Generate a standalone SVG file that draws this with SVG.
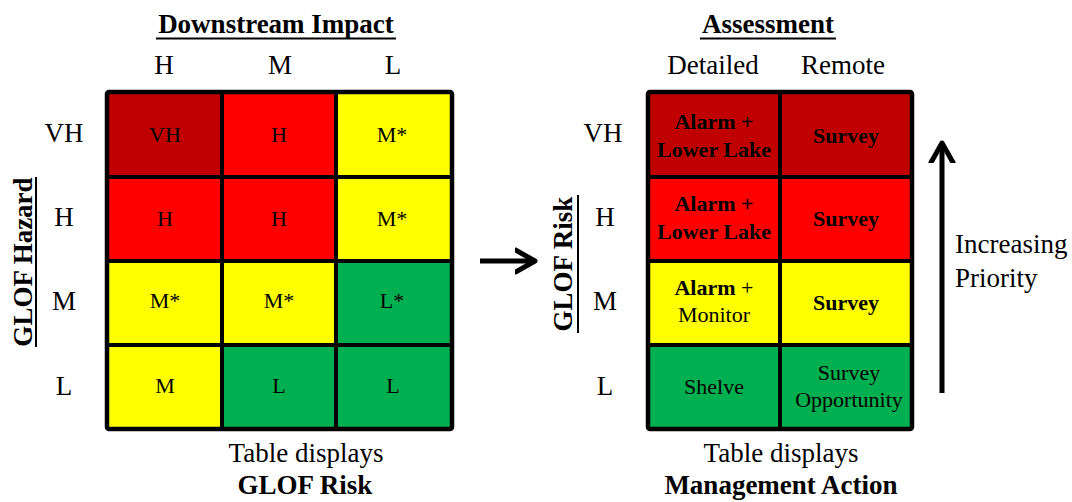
<svg xmlns="http://www.w3.org/2000/svg" width="1072" height="502" viewBox="0 0 1072 502" font-family="'Liberation Serif', 'Times New Roman', serif">
  <defs>
    <style>
      text { font-family: "Liberation Serif", "Times New Roman", serif; fill: #000; }
      .lbl { font-family: "Liberation Serif", "Times New Roman", serif; font-size: 27px; text-anchor: middle; }
      .ttl { font-family: "Liberation Serif", "Times New Roman", serif; font-size: 27px; font-weight: bold; text-anchor: middle; }
      .cell { font-family: "Liberation Serif", "Times New Roman", serif; font-size: 22px; text-anchor: middle; }
      .b { font-weight: bold; }
      .vh { fill: #C00000; }
      .hi { fill: #FF0000; }
      .md { fill: #FFFF00; }
      .lo { fill: #00B050; }
      .grid { fill: none; stroke: #000; stroke-width: 4; }
      .frame { fill: none; stroke: #000; stroke-width: 4.5; }
      .ul { stroke: #000; stroke-width: 2; }
      .arrow { stroke: #000; stroke-width: 5; fill: none; }
    </style>
    <marker id="head" markerWidth="6" markerHeight="6" refX="4" refY="3" orient="auto" markerUnits="strokeWidth">
      <path d="M0.1,0.8 L4,3 L0.1,5.2" fill="none" stroke="#000" stroke-width="1" stroke-linecap="round" stroke-linejoin="round"/>
    </marker>
  </defs>

  <!-- Left matrix: GLOF hazard vs downstream impact -->
  <g id="risk-matrix">
    <text class="ttl" x="276" y="33">Downstream Impact</text>
    <line class="ul" x1="156" y1="38.5" x2="396" y2="38.5"/>
    <text class="lbl" x="164" y="74">H</text>
    <text class="lbl" x="280" y="74">M</text>
    <text class="lbl" x="393" y="74">L</text>

    <text class="lbl" x="64" y="142">VH</text>
    <text class="lbl" x="64" y="226">H</text>
    <text class="lbl" x="64" y="310">M</text>
    <text class="lbl" x="64" y="395">L</text>

    <text class="ttl" transform="translate(32,262) rotate(-90)">GLOF Hazard</text>
    <line class="ul" x1="36" y1="177" x2="36" y2="347"/>

    <rect class="vh" x="107" y="92" width="115" height="85"/>
    <rect class="hi" x="222" y="92" width="114" height="85"/>
    <rect class="md" x="336" y="92" width="116" height="85"/>
    <rect class="hi" x="107" y="177" width="115" height="84"/>
    <rect class="hi" x="222" y="177" width="114" height="84"/>
    <rect class="md" x="336" y="177" width="116" height="84"/>
    <rect class="md" x="107" y="261" width="115" height="84"/>
    <rect class="md" x="222" y="261" width="114" height="84"/>
    <rect class="lo" x="336" y="261" width="116" height="84"/>
    <rect class="md" x="107" y="345" width="115" height="84"/>
    <rect class="lo" x="222" y="345" width="114" height="84"/>
    <rect class="lo" x="336" y="345" width="116" height="84"/>

    <path class="grid" d="M222,92 V429 M336,92 V429 M107,177 H452 M107,261 H452 M107,345 H452"/>
    <rect class="frame" x="107" y="92" width="345" height="337" rx="2"/>

    <text class="cell" x="165" y="142">VH</text>
    <text class="cell" x="279" y="142">H</text>
    <text class="cell" x="392" y="142">M*</text>
    <text class="cell" x="165" y="226">H</text>
    <text class="cell" x="279" y="226">H</text>
    <text class="cell" x="392" y="226">M*</text>
    <text class="cell" x="165" y="308">M*</text>
    <text class="cell" x="279" y="308">M*</text>
    <text class="cell" x="392" y="308">L*</text>
    <text class="cell" x="165" y="393">M</text>
    <text class="cell" x="279" y="393">L</text>
    <text class="cell" x="393" y="393">L</text>

    <text class="lbl" x="306" y="462">Table displays</text>
    <text class="ttl" x="305" y="494">GLOF Risk</text>
  </g>

  <!-- Right matrix: GLOF risk vs assessment type -->
  <g id="action-matrix">
    <text class="ttl" x="768" y="33">Assessment</text>
    <line class="ul" x1="700" y1="38.5" x2="836" y2="38.5"/>
    <text class="lbl" x="713" y="74">Detailed</text>
    <text class="lbl" x="843" y="74">Remote</text>

    <text class="lbl" x="603" y="142">VH</text>
    <text class="lbl" x="605" y="226">H</text>
    <text class="lbl" x="605" y="310">M</text>
    <text class="lbl" x="605" y="395">L</text>

    <text class="ttl" transform="translate(572,264) rotate(-90)">GLOF Risk</text>
    <line class="ul" x1="578" y1="195" x2="578" y2="333"/>

    <rect class="vh" x="648" y="92" width="132" height="85"/>
    <rect class="vh" x="780" y="92" width="132" height="85"/>
    <rect class="hi" x="648" y="177" width="132" height="84"/>
    <rect class="hi" x="780" y="177" width="132" height="84"/>
    <rect class="md" x="648" y="261" width="132" height="84"/>
    <rect class="md" x="780" y="261" width="132" height="84"/>
    <rect class="lo" x="648" y="345" width="132" height="84"/>
    <rect class="lo" x="780" y="345" width="132" height="84"/>

    <path class="grid" d="M780,92 V429 M648,177 H912 M648,261 H912 M648,345 H912"/>
    <rect class="frame" x="648" y="92" width="264" height="337" rx="2"/>

    <text class="cell b" x="714" y="129">Alarm +</text>
    <text class="cell b" x="714" y="157">Lower Lake</text>
    <text class="cell b" x="846" y="143">Survey</text>
    <text class="cell b" x="714" y="211">Alarm +</text>
    <text class="cell b" x="714" y="239">Lower Lake</text>
    <text class="cell b" x="846" y="226">Survey</text>
    <text class="cell" x="714" y="295"><tspan class="b">Alarm</tspan> +</text>
    <text class="cell" x="714" y="322">Monitor</text>
    <text class="cell b" x="846" y="310">Survey</text>
    <text class="cell" x="714" y="394">Shelve</text>
    <text class="cell" x="849" y="380">Survey</text>
    <text class="cell" x="849" y="407">Opportunity</text>

    <text class="lbl" x="781" y="462">Table displays</text>
    <text class="ttl" x="781" y="494">Management Action</text>
  </g>

  <!-- Priority label -->
  <g id="priority">
    <text class="lbl" x="955" y="253" text-anchor="start" style="text-anchor:start">Increasing</text>
    <text class="lbl" x="955" y="287" text-anchor="start" style="text-anchor:start">Priority</text>
  </g>

  <!-- Connectors -->
  <g id="connectors">
    <line class="arrow" x1="480" y1="261" x2="535" y2="261" marker-end="url(#head)"/>
    <line class="arrow" x1="942" y1="393" x2="942" y2="143" marker-end="url(#head)"/>
  </g>
</svg>
